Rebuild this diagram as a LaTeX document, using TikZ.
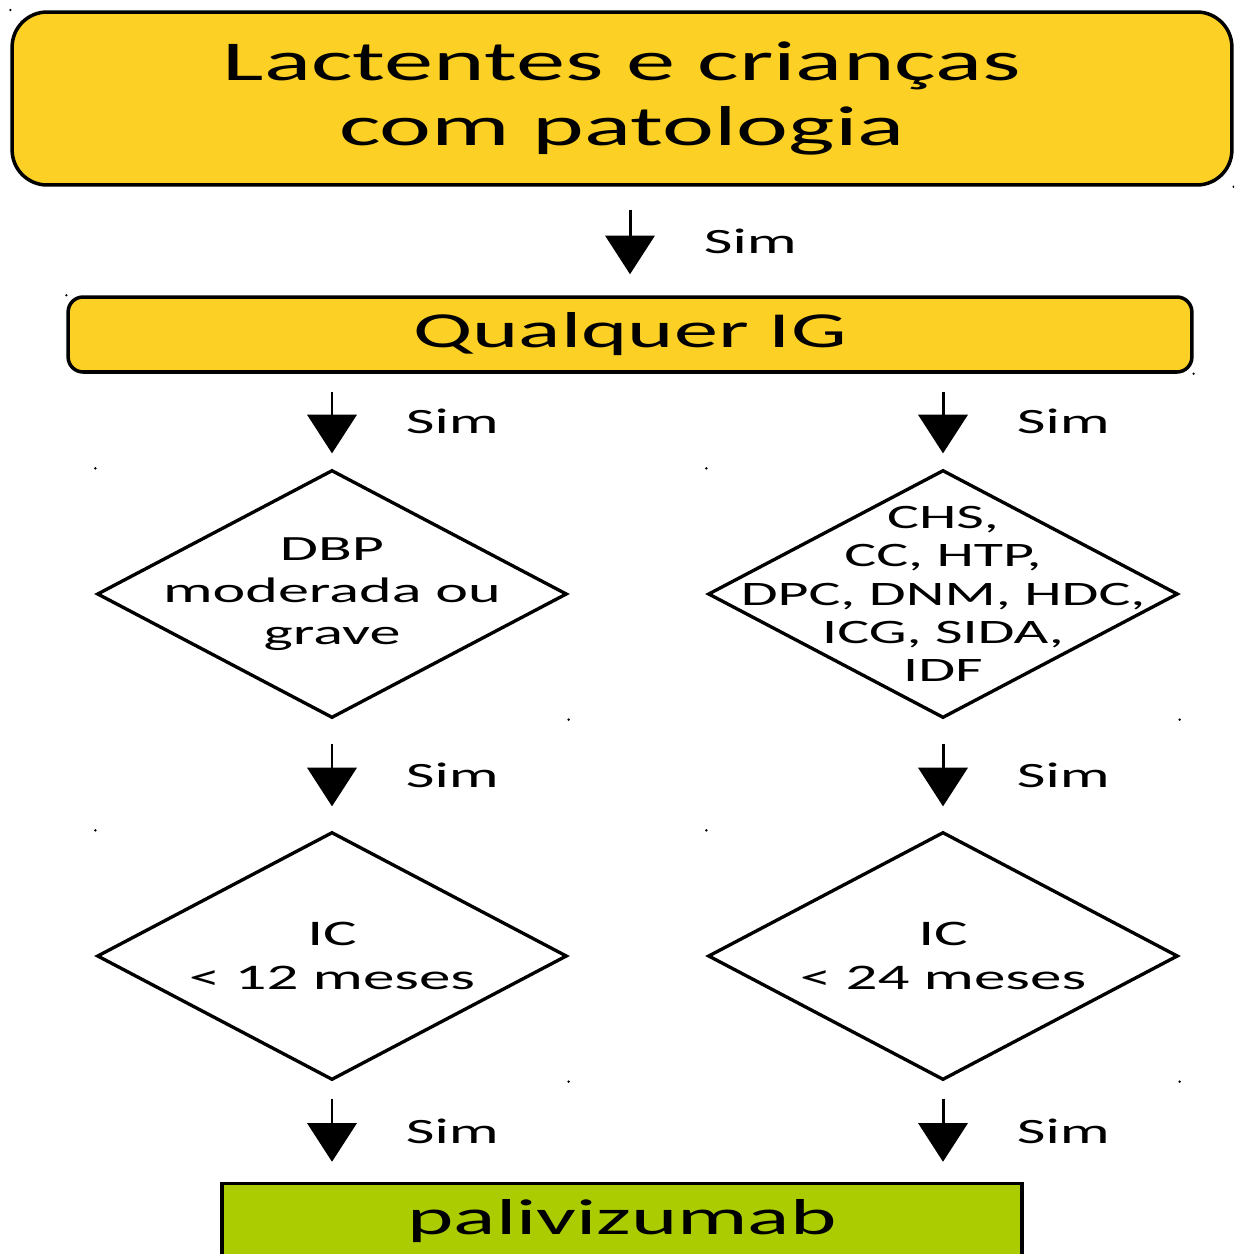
\documentclass[tikz,border=0pt]{standalone}
\usepackage{fontspec}
\setmainfont{Carlito}[FakeStretch=1.75]
\usetikzlibrary{arrows.meta,shapes.geometric}
\definecolor{boxyellow}{RGB}{252,208,36}
\definecolor{boxgreen}{RGB}{170,204,0}
\begin{document}
\begin{tikzpicture}[x=0.02cm,y=-0.02cm,
		yellowbox/.style={draw=black,line width=2pt,fill=boxyellow,rounded corners=0.3cm,inner sep=0,align=center},
		decision/.style={draw=black,line width=1.9pt,diamond,inner sep=0,minimum width=9.4cm,minimum height=4.96cm},
		flow/.style={-{Triangle[width=28pt,length=22pt]},line width=1.7pt},
		sim/.style={right=1.45cm,inner sep=0,font=\fontsize{20.3}{22}\selectfont}]
			\useasboundingbox (0,0) rectangle (1234,1254);
			\clip (0,0) rectangle (1234,1254);
			\node[yellowbox,rounded corners=0.7cm,minimum width=24.4cm,minimum height=3.46cm,font=\fontsize{32}{37}\selectfont] (pop) at (622,98.5) {Lactentes e crianças\\com patologia};
			\node[yellowbox,minimum width=22.48cm,minimum height=1.5cm,font=\fontsize{28.7}{32}\selectfont] (anyig) at (630,334.5) {Qualquer IG};
			\node[decision] (dbp) at (332,594) {};
			\node[decision] (cardio) at (943,594) {};
			\node[decision] (age12) at (332,956) {};
			\node[decision] (age24) at (943,956) {};
			\node[align=center,inner sep=0,font=\fontsize{20.2}{24}\selectfont] (dbptxt) at (dbp) {DBP\\moderada ou\\grave};
			\node[align=center,inner sep=0,font=\fontsize{19.5}{21.8}\selectfont] (cardiotxt) at (cardio) {CHS,\\CC, HTP,\\DPC, DNM, HDC,\\ICG, SIDA,\\IDF};
			\node[align=center,inner sep=0,font=\fontsize{20.5}{25}\selectfont] (age12txt) at (age12) {IC\\< 12 meses};
			\node[align=center,inner sep=0,font=\fontsize{20.5}{25}\selectfont] (age24txt) at (age24) {IC\\< 24 meses};
			\node[draw=black,line width=2pt,fill=boxgreen,inner sep=0,minimum width=16cm,minimum height=1.5cm,font=\fontsize{28.7}{32}\selectfont] (paliv) at (622,1221) {palivizumab};
			% arrows
			\draw[flow,shorten <=0.46cm,shorten >=0.42cm] (pop.south -| anyig.north) -- (anyig.north) node[midway,sim] {Sim};
			\draw[flow,shorten <=0.36cm,shorten >=0.3cm] (dbp.north |- anyig.south) -- (dbp.north) node[midway,sim] {Sim};
			\draw[flow,shorten <=0.36cm,shorten >=0.3cm] (cardio.north |- anyig.south) -- (cardio.north) node[midway,sim] {Sim};
			\draw[flow,shorten <=0.48cm,shorten >=0.48cm] (dbp.south) -- (age12.north) node[midway,sim] {Sim};
			\draw[flow,shorten <=0.48cm,shorten >=0.48cm] (cardio.south) -- (age24.north) node[midway,sim] {Sim};
			\draw[flow,shorten <=0.34cm,shorten >=0.4cm] (age12.south) -- (age12.south |- paliv.north) node[midway,sim] {Sim};
			\draw[flow,shorten <=0.34cm,shorten >=0.4cm] (age24.south) -- (age24.south |- paliv.north) node[midway,sim] {Sim};
			% handle dots
			\fill (pop.west |- 0,10) circle (1.3);
			\fill (pop.south east) circle (1.3);
			\fill (anyig.north west) circle (1.3);
			\fill (anyig.south east) circle (1.3);
			\fill (dbp.west |- dbp.north) circle (1.3);
			\fill (dbp.east |- dbp.south) circle (1.3);
			\fill (cardio.west |- cardio.north) circle (1.3);
			\fill (cardio.east |- cardio.south) circle (1.3);
			\fill (age12.west |- age12.north) circle (1.3);
			\fill (age12.east |- age12.south) circle (1.3);
			\fill (age24.west |- age24.north) circle (1.3);
			\fill (age24.east |- age24.south) circle (1.3);
		\end{tikzpicture}
\end{document}
